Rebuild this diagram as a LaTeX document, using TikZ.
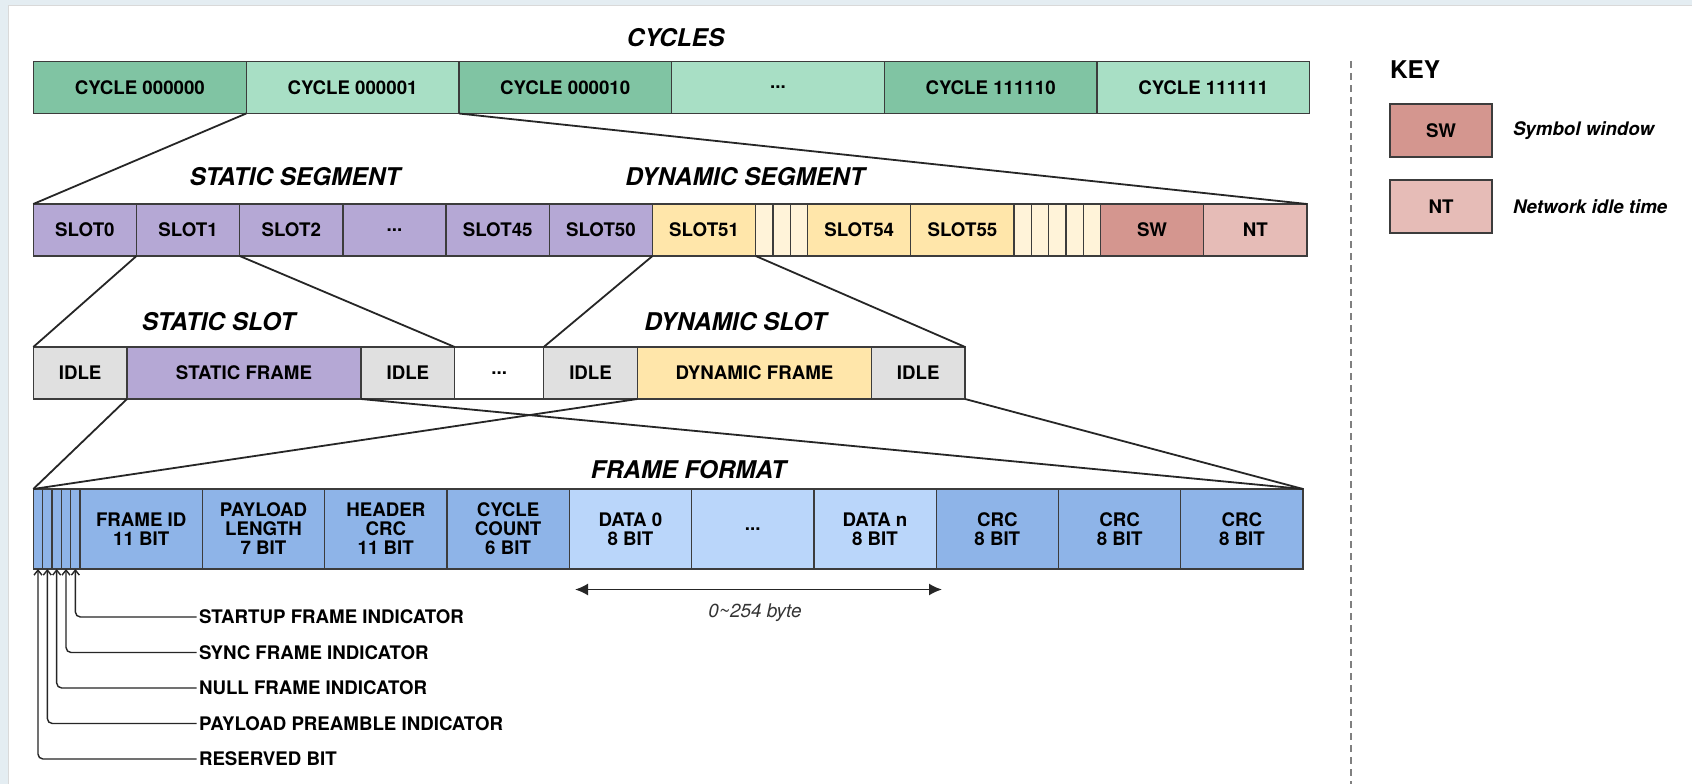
\documentclass[tikz,border=0pt]{standalone}
\usepackage{fontspec}
\setmainfont{TeX Gyre Heros}
\usetikzlibrary{positioning,arrows.meta}

\definecolor{cycdark}{HTML}{80C4A3}
\definecolor{cyclight}{HTML}{A8DFC5}
\definecolor{stat}{HTML}{B5A8D5}
\definecolor{dyn}{HTML}{FFE6AA}
\definecolor{dynthin}{HTML}{FFF3D9}
\definecolor{swcol}{HTML}{D4968F}
\definecolor{ntcol}{HTML}{E6BCB7}
\definecolor{idlecol}{HTML}{E0E0E0}
\definecolor{hdrcol}{HTML}{8EB4E8}
\definecolor{datacol}{HTML}{BAD6FA}
\definecolor{edge}{HTML}{3C3C3C}
\definecolor{band}{HTML}{E4EDF2}

\begin{document}
\begin{tikzpicture}[x=1pt,y=1pt,>=Latex,
			node distance=0pt,
			every node/.style={inner sep=0pt,outer sep=0pt,align=center,text=black},
			box/.style={draw=edge,line width=1.3pt,minimum height=52pt,font=\bfseries\fontsize{18.7}{19}\selectfont},
			cyc/.style={box,minimum width=212.7pt},
			slot/.style={box,minimum width=103.2pt,fill=stat},
			minislot/.style={box,minimum width=17.3pt,fill=dynthin},
			idle/.style={box,minimum width=93.7pt,fill=idlecol},
			frm/.style={box,minimum width=234pt},
			bit/.style={box,minimum width=9.35pt,minimum height=80pt,fill=hdrcol},
			field/.style={box,minimum width=122.3pt,minimum height=80pt,fill=hdrcol},
			keybox/.style={box,minimum width=102pt,minimum height=53pt,anchor=north west},
			heading/.style={font=\bfseries\itshape\fontsize{24.4}{26}\selectfont},
			zoomline/.style={draw=black!85,line width=1.8pt},
			lead/.style={draw=black!85,line width=1.4pt,rounded corners=5pt,-{Straight Barb[length=5pt,width=8pt]}},
			lbl/.style={anchor=west,inner sep=2.5pt,font=\bfseries\fontsize{18.7}{19}\selectfont},
			note/.style={anchor=west,font=\bfseries\itshape\fontsize{18.7}{19}\selectfont}
			]
			
			\useasboundingbox (0,0) rectangle (1692,-784);
			
			\fill[band](0,0) rectangle (1692,-784);
			
			\filldraw[fill=white,draw=black!15,line width=1pt](8,-6) rectangle (1700,-790);
			
			\node[heading](cycles) at (675.5,-37.8){CYCLES};
			
			\node[cyc,fill=cycdark,anchor=north west](c0) at (33.5,-61.5){CYCLE 000000};
			
			\node[cyc,fill=cyclight,right=of c0](c1){CYCLE 000001};
			
			\node[cyc,fill=cycdark,right=of c1](c2){CYCLE 000010};
			
			\node[cyc,fill=cyclight,right=of c2](cx){...};
			
			\node[cyc,fill=cycdark,right=of cx](c62){CYCLE 111110};
			
			\node[cyc,fill=cyclight,right=of c62](c63){CYCLE 111111};
			
			\node[heading](stseg) at (295,-177){STATIC SEGMENT};
			
			\node[heading](dyseg) at (745,-177){DYNAMIC SEGMENT};
			
			\node[slot,anchor=north west](s0) at (33.3,-204){SLOT0};
			
			\node[slot,right=of s0](s1){SLOT1};
			
			\node[slot,right=of s1](s2){SLOT2};
			
			\node[slot,right=of s2](sx){...};
			
			\node[slot,right=of sx](s45){SLOT45};
			
			\node[slot,right=of s45](s50){SLOT50};
			
			\node[slot,fill=dyn,right=of s50](s51){SLOT51};
			
			\node[minislot,right=of s51](m1){};
			
			\node[minislot,right=of m1](m2){};
			
			\node[minislot,right=of m2](m3){};
			
			\node[slot,fill=dyn,right=of m3](s54){SLOT54};
			
			\node[slot,fill=dyn,right=of s54](s55){SLOT55};
			
			\node[minislot,right=of s55](m4){};
			
			\node[minislot,right=of m4](m5){};
			
			\node[minislot,right=of m5](m6){};
			
			\node[minislot,right=of m6](m7){};
			
			\node[minislot,right=of m7](m8){};
			
			\node[slot,fill=swcol,right=of m8](sw){SW};
			
			\node[slot,fill=ntcol,right=of sw](nt){NT};
			
			\node[heading](stslot) at (218.5,-321.6){STATIC SLOT};
			
			\node[heading](dyslot) at (735.4,-321.6){DYNAMIC SLOT};
			
			\node[idle,anchor=north west](i1) at (33.3,-347){IDLE};
			
			\node[frm,fill=stat,right=of i1](sf){STATIC FRAME};
			
			\node[idle,right=of sf](i2){IDLE};
			
			\node[box,minimum width=89pt,fill=white,right=of i2](ix){...};
			
			\node[idle,right=of ix](i3){IDLE};
			
			\node[frm,fill=dyn,right=of i3](df){DYNAMIC FRAME};
			
			\node[idle,right=of df](i4){IDLE};
			
			\node[heading](fformat) at (688.5,-469.4){FRAME FORMAT};
			
			\node[bit,anchor=north west](b1) at (33.3,-489){};
			
			\node[bit,right=of b1](b2){};
			
			\node[bit,right=of b2](b3){};
			
			\node[bit,right=of b3](b4){};
			
			\node[bit,right=of b4](b5){};
			
			\node[field,right=of b5](fid){FRAME ID\\11 BIT};
			
			\node[field,right=of fid](plen){PAYLOAD\\LENGTH\\7 BIT};
			
			\node[field,right=of plen](hcrc){HEADER\\CRC\\11 BIT};
			
			\node[field,right=of hcrc](ccnt){CYCLE\\COUNT\\6 BIT};
			
			\node[field,fill=datacol,right=of ccnt](d0){DATA 0\\8 BIT};
			
			\node[field,fill=datacol,right=of d0](dx){...};
			
			\node[field,fill=datacol,right=of dx](dn){DATA n\\8 BIT};
			
			\node[field,right=of dn](crc1){CRC\\8 BIT};
			
			\node[field,right=of crc1](crc2){CRC\\8 BIT};
			
			\node[field,right=of crc2](crc3){CRC\\8 BIT};
			
			\draw[zoomline](c1.south west)--(s0.north west);
			
			\draw[zoomline](c1.south east)--(nt.north east);
			
			\draw[zoomline](s1.south west)--(i1.north west);
			
			\draw[zoomline](s1.south east)--(i2.north east);
			
			\draw[zoomline](s51.south west)--(i3.north west);
			
			\draw[zoomline](s51.south east)--(i4.north east);
			
			\draw[zoomline](sf.south west)--(b1.north west);
			
			\draw[zoomline](sf.south east)--(crc3.north east);
			
			\draw[zoomline](df.south west)--(b1.north west);
			
			\draw[zoomline](i4.south east)--(crc3.north east);
			
			\coordinate(bytel) at (575,-589.5);
			
			\coordinate(byter) at (942,-589.5);
			
			\draw[<->,draw=black!85,line width=1.8pt,>={Latex[length=13pt,width=12pt]}](bytel)--(byter);
			
			\node[font=\itshape\fontsize{18.9}{20}\selectfont,text=black!80](bytes) at (755,-613){0\textasciitilde254 byte};
			
			\node[lbl](sfi) at (196.5,-617){STARTUP FRAME INDICATOR};
			
			\node[lbl,below=35.5pt of sfi.west,anchor=west](syfi){SYNC FRAME INDICATOR};
			
			\node[lbl,below=35.5pt of syfi.west,anchor=west](nfi){NULL FRAME INDICATOR};
			
			\node[lbl,below=35.5pt of nfi.west,anchor=west](ppi){PAYLOAD PREAMBLE INDICATOR};
			
			\node[lbl,below=35.5pt of ppi.west,anchor=west](rsv){RESERVED BIT};
			
			\draw[lead](sfi.west)-|(b5.south);
			
			\draw[lead](syfi.west)-|(b4.south);
			
			\draw[lead](nfi.west)-|(b3.south);
			
			\draw[lead](ppi.west)-|(b2.south);
			
			\draw[lead](rsv.west)-|(b1.south);
			
			\coordinate(septop) at (1351,-61);
			
			\coordinate(sepbot) at (1351,-784);
			
			\draw[draw=black!50,line width=1.5pt,dash pattern=on 7pt off 5pt](septop)--(sepbot);
			
			\node[font=\bfseries\fontsize{24.4}{26}\selectfont,anchor=west](key) at (1390,-70){KEY};
			
			\node[keybox,fill=swcol](ksw) at (1390,-104){SW};
			
			\node[note,right=21pt of ksw](kswtxt){Symbol window};
			
			\node[keybox,fill=ntcol](knt) at (1390,-180){NT};
			
			\node[note,right=21pt of knt](knttxt){Network idle time};
			
		\end{tikzpicture}
\end{document}
